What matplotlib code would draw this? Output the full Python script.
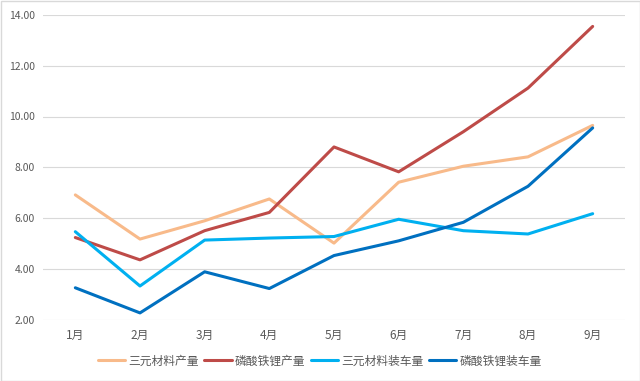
import matplotlib
matplotlib.use("Agg")
import matplotlib.pyplot as plt
from matplotlib.patches import Rectangle

plt.rcParams['font.family'] = ['Noto Sans CJK SC', 'DejaVu Sans']

months = ["1月", "2月", "3月", "4月", "5月", "6月", "7月", "8月", "9月"]
ternary_output = [6.91, 5.17, 5.89, 6.75, 5.01, 7.41, 8.04, 8.41, 9.65]
lfp_output = [5.23, 4.35, 5.50, 6.22, 8.80, 7.82, 9.40, 11.12, 13.55]
ternary_install = [5.46, 3.32, 5.13, 5.21, 5.27, 5.95, 5.50, 5.37, 6.17]
lfp_install = [3.25, 2.26, 3.88, 3.22, 4.52, 5.10, 5.83, 7.25, 9.55]

series_names = ["三元材料产量", "磷酸铁锂产量", "三元材料装车量", "磷酸铁锂装车量"]
colors = ["#F8BA8A", "#BE4B48", "#00B0F0", "#0070C0"]
yticks = [2, 4, 6, 8, 10, 12, 14]

fig = plt.figure(figsize=(6.4, 3.81), dpi=100)
ax = fig.add_axes([43/640, 1-319.5/381, (625-43)/640, (319.5-15)/381])

x = list(range(len(months)))
for vals, name, c in zip([ternary_output, lfp_output, ternary_install, lfp_install], series_names, colors):
    ax.plot(x, vals, color=c, lw=2.2, label=name, solid_capstyle='round', solid_joinstyle='round')

ax.set_xlim(-0.5, len(months) - 0.5)
ax.set_ylim(2, 14)
ax.set_yticks(yticks)
ax.set_yticklabels([f"{v:.2f}" for v in yticks])
ax.set_xticks(x)
ax.set_xticklabels(months)
ax.grid(axis='y', color='#D9D9D9', lw=0.8)
ax.set_axisbelow(True)
for s in ax.spines.values():
    s.set_visible(False)
ax.tick_params(axis='y', length=0, labelsize=7.5, colors='#595959', pad=6)
ax.tick_params(axis='x', length=0, labelsize=8.5, colors='#595959', pad=7)

leg = fig.legend(loc='center', bbox_to_anchor=(0.5, 1-361/381), ncol=4, frameon=False,
                 fontsize=8.5, handlelength=2.3, columnspacing=0.45, handletextpad=0.3,
                 labelcolor='#595959')

fig.patches.append(Rectangle((0.5/640, 0.5/381), 1-1/640, 1-1/381, transform=fig.transFigure,
                             fill=False, edgecolor='#D9D9D9', lw=1))

fig.savefig("out.png", dpi=100)
